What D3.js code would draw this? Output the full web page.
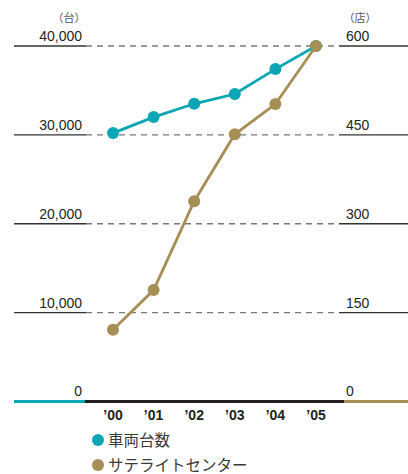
<!DOCTYPE html>
<html>
<head>
<meta charset="utf-8">
<script src="https://cdn.jsdelivr.net/npm/d3@7"></script>
<style>
  body { margin: 0; background: #fff; }
  svg { display: block; font-family: "Liberation Sans", Arial, sans-serif; }
</style>
</head>
<body>
<svg id="chart" width="408" height="474"></svg>
<script>
// data
const years = ['’00', '’01', '’02', '’03', '’04', '’05'];
const vehicles = [30200, 32000, 33500, 34600, 37400, 40000];   // 車両台数 (台)
const centers = [121, 188, 338, 451, 502, 600];                 // サテライトセンター (店)
const leftTicks = [10000, 20000, 30000, 40000];
const rightTicks = [150, 300, 450, 600];
const seriesNames = ['車両台数', 'サテライトセンター'];

const teal = '#0aa6b6';
const gold = '#a68f55';

const svg = d3.select('#chart');

const plotTop = 46, plotBottom = 401.5;

const x = d3.scalePoint()
	.domain(years)
	.range([113, 316]);

const yL = d3.scaleLinear().domain([0, 40000]).range([plotBottom, plotTop]);
const yR = d3.scaleLinear().domain([0, 600]).range([plotBottom, plotTop]);

const fmt = d3.format(',');

// gridlines: solid stubs on both sides, dashed in between
const grid = svg.append('g');
leftTicks.forEach(function (t) {
	const yy = yL(t);
	grid.append('line').attr('x1', 14).attr('x2', 86).attr('y1', yy).attr('y2', yy)
		.attr('stroke', '#333').attr('stroke-width', 1.4);
	grid.append('line').attr('x1', 86).attr('x2', 336).attr('y1', yy).attr('y2', yy)
		.attr('stroke', '#777').attr('stroke-width', 1.4).attr('stroke-dasharray', '6,5');
	grid.append('line').attr('x1', 339).attr('x2', 408).attr('y1', yy).attr('y2', yy)
		.attr('stroke', '#333').attr('stroke-width', 1.4);
	grid.append('text').attr('x', 82).attr('y', yy - 5).attr('text-anchor', 'end')
		.attr('font-size', 14).attr('fill', '#231f20').text(fmt(t));
});
rightTicks.forEach(function (t) {
	grid.append('text').attr('x', 346).attr('y', yR(t) - 5)
		.attr('font-size', 14).attr('fill', '#231f20').text(t);
});

// unit labels
svg.append('text').attr('x', 69).attr('y', 22).attr('text-anchor', 'middle')
	.attr('font-size', 11).attr('fill', '#555').attr('font-family', 'Noto Sans CJK JP').text('（台）');
svg.append('text').attr('x', 360).attr('y', 22).attr('text-anchor', 'middle')
	.attr('font-size', 11).attr('fill', '#555').attr('font-family', 'Noto Sans CJK JP').text('（店）');

// baseline
svg.append('line').attr('x1', 14).attr('x2', 85).attr('y1', plotBottom).attr('y2', plotBottom)
	.attr('stroke', teal).attr('stroke-width', 3);
svg.append('line').attr('x1', 85).attr('x2', 344).attr('y1', plotBottom).attr('y2', plotBottom)
	.attr('stroke', '#231f20').attr('stroke-width', 3);
svg.append('line').attr('x1', 344).attr('x2', 408).attr('y1', plotBottom).attr('y2', plotBottom)
	.attr('stroke', gold).attr('stroke-width', 3);
svg.append('text').attr('x', 82).attr('y', plotBottom - 6).attr('text-anchor', 'end')
	.attr('font-size', 14).attr('fill', '#231f20').text('0');
svg.append('text').attr('x', 346).attr('y', plotBottom - 6)
	.attr('font-size', 14).attr('fill', '#231f20').text('0');

// year labels
svg.append('g').selectAll('text').data(years).enter().append('text')
	.attr('x', function (d) { return x(d); })
	.attr('y', 420)
	.attr('text-anchor', 'middle')
	.attr('font-size', 14)
	.attr('font-weight', 'bold')
	.attr('fill', '#231f20')
	.text(function (d) { return d; });

// series
function drawSeries(values, scale, color) {
	const line = d3.line()
		.x(function (d, i) { return x(years[i]); })
		.y(function (d) { return scale(d); });
	const g = svg.append('g');
	g.append('path').attr('d', line(values))
		.attr('fill', 'none').attr('stroke', color).attr('stroke-width', 2.8);
	g.selectAll('circle').data(values).enter().append('circle')
		.attr('cx', function (d, i) { return x(years[i]); })
		.attr('cy', function (d) { return scale(d); })
		.attr('r', 6)
		.attr('fill', color);
}
drawSeries(vehicles, yL, teal);
drawSeries(centers, yR, gold);

// legend
const legend = svg.append('g');
[teal, gold].forEach(function (c, i) {
	const yy = 440 + i * 25;
	legend.append('circle').attr('cx', 98).attr('cy', yy).attr('r', 6).attr('fill', c);
	legend.append('text').attr('x', 108).attr('y', yy + 5.5)
		.attr('font-size', 15.5).attr('fill', '#3a3a3a').attr('font-family', 'Noto Sans CJK JP')
		.text(seriesNames[i]);
});
</script>
</body>
</html>
